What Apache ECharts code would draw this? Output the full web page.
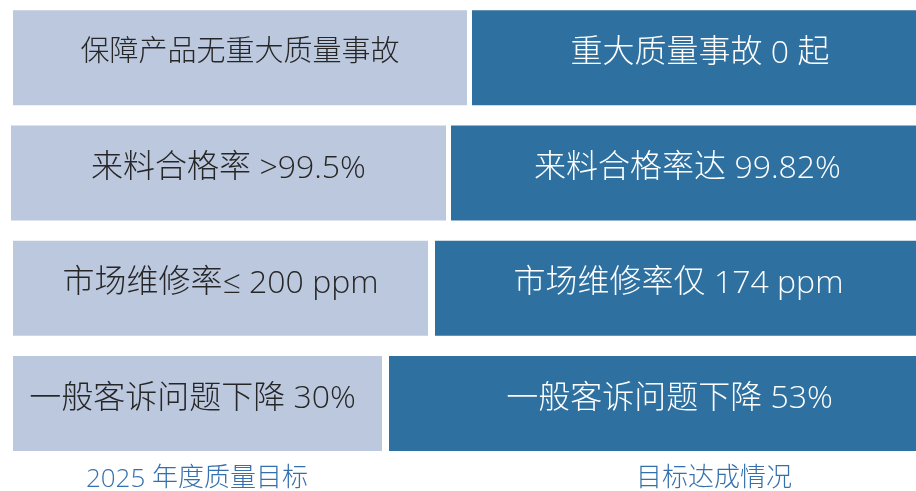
<!DOCTYPE html>
<html>
<head>
<meta charset="utf-8">
<script src="https://cdn.jsdelivr.net/npm/echarts@6/dist/echarts.min.js"></script>
<style>
html,body{margin:0;padding:0;background:#fff;}
#c{width:916px;height:491px;}
</style>
</head>
<body>
<div id="c"></div>
<script>
// Row texts
var goalTexts = ['保障产品无重大质量事故', '来料合格率 >99.5%', '市场维修率≤ 200 ppm', '一般客诉问题下降 30%'];
var resultTexts = ['重大质量事故 0 起', '来料合格率达 99.82%', '市场维修率仅 174 ppm', '一般客诉问题下降 53%'];
// Bar segment lengths (in axis units)
var leadValues = [13, 11, 13, 13];
var goalValues = [454, 435, 415, 369];
var gapValues = [5, 5, 7, 7];
var resultValues = [444, 465, 481, 527];
// Column captions
var captions = ['2025 年度质量目标', '目标达成情况'];

var CJK = '"Noto Sans CJK SC", sans-serif';
var LAT = '"Open Sans", "Noto Sans", sans-serif';
var goalLabelOffsets = [[0, -8], [0, -8], [0, -8], [-5, -8]];
var goalFontSizes = [29, 32, 32, 32];
var resultLabelOffsets = [[6, -8], [4, -8], [3, -8], [17, -8]];
var resultFontSizes = [32, 32, 32, 32];

// split text into CJK / latin runs for rich text
function toRich(text) {
  var out = '', cur = '', curType = null;
  for (var i = 0; i < text.length; i++) {
    var ch = text[i];
    var t = /[\u3000-\u9fff\uff00-\uffef]/.test(ch) ? 'c' : 'l';
    if (t !== curType && cur) { out += '{' + curType + '|' + cur + '}'; cur = ''; }
    curType = t; cur += ch;
  }
  if (cur) out += '{' + curType + '|' + cur + '}';
  return out;
}

function richStyles(color, size, useFill) {
  var shift = Math.round(size / 4);
  var c = { fontSize: size, fontFamily: CJK, fontWeight: 300, lineHeight: 40, verticalAlign: 'middle' };
  var l = { fontSize: size, fontFamily: LAT, fontWeight: 300, lineHeight: 40, verticalAlign: 'middle', padding: [shift, 0, 0, 0] };
  if (useFill) { c.fill = color; l.fill = color; } else { c.color = color; l.color = color; }
  return { c: c, l: l };
}

var chart = echarts.init(document.getElementById('c'));
var rows = goalTexts.map(function (t, i) { return 'r' + i; });

function seg(values, color, texts, textColor, offsets, sizes) {
  return values.map(function (v, i) {
    var item = { value: v, itemStyle: { color: color } };
    if (texts) {
      item.label = {
        show: true, position: 'inside', formatter: toRich(texts[i]),
        rich: richStyles(textColor, sizes[i], false),
        offset: offsets[i]
      };
    }
    return item;
  });
}

chart.setOption({
  animation: false,
  grid: { left: 0, right: 0, top: 0, bottom: 30 },
  xAxis: { type: 'value', min: 0, max: 916, show: false },
  yAxis: { type: 'category', data: rows, inverse: true, show: false },
  series: [
    { type: 'bar', stack: 's', barWidth: 95, silent: true, data: seg(leadValues, 'rgba(0,0,0,0)') },
    { type: 'bar', stack: 's', barWidth: 95, data: seg(goalValues, '#bcc8de', goalTexts, '#262626', goalLabelOffsets, goalFontSizes) },
    { type: 'bar', stack: 's', barWidth: 95, silent: true, data: seg(gapValues, 'rgba(0,0,0,0)') },
    { type: 'bar', stack: 's', barWidth: 95, data: seg(resultValues, '#2e70a0', resultTexts, '#ffffff', resultLabelOffsets, resultFontSizes) }
  ],
  graphic: [
    { type: 'text', x: 197, y: 476, style: { text: toRich(captions[0]), rich: richStyles('#3570ae', 26, true), fill: '#3570ae', textAlign: 'center', textVerticalAlign: 'middle' } },
    { type: 'text', x: 714, y: 476, style: { text: toRich(captions[1]), rich: richStyles('#3570ae', 26, true), fill: '#3570ae', textAlign: 'center', textVerticalAlign: 'middle' } }
  ]
});
</script>
</body>
</html>
